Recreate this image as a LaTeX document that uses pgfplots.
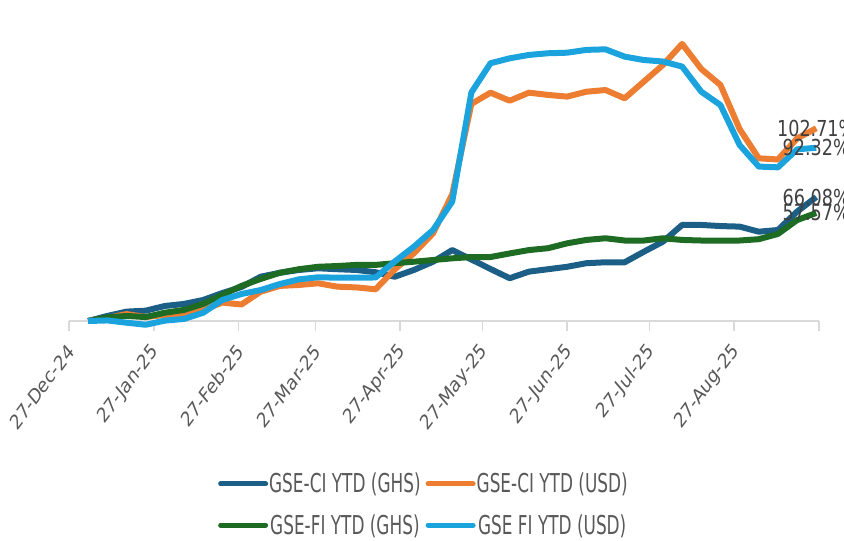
\documentclass[border=0pt]{standalone}
\usepackage{pgfplots}
\usepackage{pgfplotstable}
\pgfplotsset{compat=1.18}
\usepackage{fontspec}
\setmainfont{DejaVu Sans}
\newfontfamily\legfont{DejaVu Sans}[FakeStretch=0.65]
\newfontfamily\labfont{DejaVu Sans}[FakeStretch=0.8]
\definecolor{cighs}{HTML}{1B5E86}
\definecolor{ciusd}{HTML}{ED7D31}
\definecolor{fighs}{HTML}{1E6B24}
\definecolor{fiusd}{HTML}{1AA3DC}
\definecolor{axgray}{HTML}{D9D9D9}
\definecolor{txgray}{HTML}{595959}
\definecolor{lbgray}{HTML}{404040}

\pgfplotstableread{
day cighs ciusd fighs fiusd
7   0.0   0.0   0.0   0.0
14  2.7   1.6   1.9   0.3
21  5.0   3.7   2.7   -0.9
28  5.5   2.1   2.1   -2.0
35  8.0   3.2   4.4   0.2
42  9.1   2.7   5.9   1.1
49  11.2  5.9   9.1   4.4
56  14.9  9.8   13.9  11.2
63  18.1  8.8   18.7  14.4
70  23.6  15.6  22.4  16.5
77  25.7  18.7  25.7  19.7
84  27.2  19.2  27.6  22.2
91  28.1  20.1  28.9  23.3
98  27.6  18.3  29.3  23.1
105 27.2  17.9  29.9  23.1
112 26.0  16.9  29.9  23.2
119 23.6  27.5  30.8  31.7
126 27.2  36.1  31.6  39.6
133 31.6  46.7  32.5  48.5
140 37.8  67.5  33.4  63.6
147 32.8  115.7 34.1  121.8
154 27.7  121.7 34.1  137.4
161 22.8  117.4 36.0  140.0
168 26.3  121.7 37.8  141.8
175 27.6  120.5 38.8  142.7
182 28.9  119.6 41.4  143.0
189 30.8  122.2 43.2  144.5
196 31.3  123.1 44.1  144.8
203 31.3  118.7 42.9  140.9
210 36.9  127.6 42.9  139.1
217 42.3  136.5 44.1  138.3
224 51.2  147.7 43.2  135.6
231 51.2  134.3 42.9  122.2
238 50.6  125.8 42.9  115.1
245 50.3  102.3 42.9  93.8
252 47.6  86.7  43.6  82.3
259 48.5  86.1  46.4  81.9
266 58.3  97.3  53.8  91.5
273 66.08 102.71 57.57 92.32
}\datatable

\begin{document}
\begin{tikzpicture}
\useasboundingbox (-69pt,-220pt) rectangle (775pt,321pt);
\begin{axis}[
  at={(0pt,0pt)}, anchor=south west,
  scale only axis,
  width=750pt, height=300.2pt,
  xmin=0, xmax=274, ymin=0, ymax=160,
  clip=false,
  axis x line*=bottom,
  axis y line=none,
  x axis line style={draw=axgray, line width=2pt},
  xtick={0,31,62,90,121,151,182,212,243,274},
  xticklabels={27-Dec-24,27-Jan-25,27-Feb-25,27-Mar-25,27-Apr-25,27-May-25,27-Jun-25,27-Jul-25,27-Aug-25,{}},
  tick align=outside,
  major tick length=10pt,
  xtick style={draw=axgray, line width=1.5pt},
  ytick=\empty,
  xticklabel style={font=\fontsize{20.5}{23}\selectfont, text=txgray, anchor=east, inner sep=0pt, xshift=2pt, yshift=-17pt, xscale=0.8, rotate=47},
  legend columns=2,
  legend style={at={(0.4726,-0.611)}, anchor=center, draw=none, fill=none, inner sep=0pt,
    font=\legfont\fontsize{26}{30}\selectfont, text=txgray,
    /tikz/every even column/.append style={column sep=4pt},
    row sep=18pt,
    nodes={inner sep=1pt}},
  legend image code/.code={\draw[#1, line width=5pt, line cap=round] (0pt,0pt) -- (45pt,0pt);},
  every axis plot/.append style={line width=6pt, line join=round, mark=none},
]
\addplot[cighs] table[x=day, y=cighs] {\datatable}
  node[pos=1, anchor=center, text=lbgray, font=\labfont\fontsize{22}{25}\selectfont, inner sep=0pt] {66.08\%};
\addlegendentry{GSE-CI YTD (GHS)}
\addplot[ciusd] table[x=day, y=ciusd] {\datatable}
  node[pos=1, anchor=center, text=lbgray, font=\labfont\fontsize{22}{25}\selectfont, inner sep=0pt] {102.71\%};
\addlegendentry{GSE-CI YTD (USD)}
\addplot[fighs] table[x=day, y=fighs] {\datatable}
  node[pos=1, anchor=center, text=lbgray, font=\labfont\fontsize{22}{25}\selectfont, inner sep=0pt] {57.57\%};
\addlegendentry{GSE-FI YTD (GHS)}
\addplot[fiusd] table[x=day, y=fiusd] {\datatable}
  node[pos=1, anchor=center, text=lbgray, font=\labfont\fontsize{22}{25}\selectfont, inner sep=0pt] {92.32\%};
\addlegendentry{GSE FI YTD (USD)}
\end{axis}
\end{tikzpicture}
\end{document}
